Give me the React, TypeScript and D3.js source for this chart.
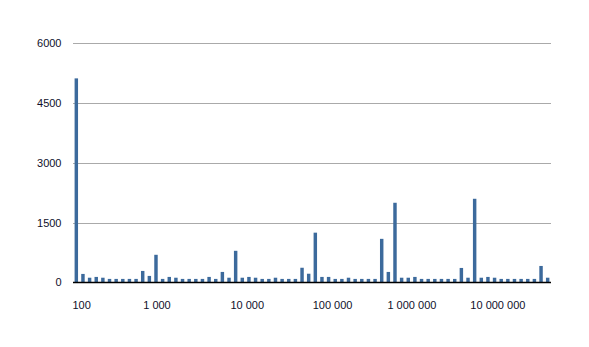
import React from "react";
import * as d3 from "d3";

const values: number[] = [
  5120, 215, 120, 140, 120, 90, 90, 90, 90, 90, 290, 165,
  695, 90, 140, 120, 90, 90, 90, 90, 140, 90, 265, 120,
  795, 120, 140, 120, 90, 90, 120, 90, 90, 90, 370, 220,
  1250, 140, 140, 90, 90, 120, 90, 90, 90, 90, 1095, 265,
  2000, 120, 120, 140, 90, 90, 90, 90, 90, 90, 365, 120,
  2100, 120, 140, 120, 90, 90, 90, 90, 90, 90, 415, 120,
];
const categories: number[] = values.map((_, i) => i);
const yTicks: number[] = [0, 1500, 3000, 4500, 6000];
const xTickLabels: string[] = ["100", "1 000", "10 000", "100 000", "1 000 000", "10 000 000"];
const xTickAt: number[] = [0.8, 12.15, 25.75, 38.6, 50.55, 63.5];

const W = 589;
const H = 347;
const left = 73;
const right = 551;
const top = 43.3;
const bottom = 282.5;

export default function App() {
  const x = d3.scaleBand<number>().domain(categories).range([left, right]).paddingInner(0.48).paddingOuter(0.24);
  const y = d3.scaleLinear().domain([0, 6000]).range([bottom, top]);
  const step = x.step();
  const x0 = x(0)! + x.bandwidth() / 2;
  const fx = (f: number) => x0 + f * step;
  const font = "'Liberation Sans', Arial, Helvetica, sans-serif";
  return (
    <svg width={W} height={H} style={{ position: "absolute", left: 0, top: 0, background: "#fff" }}>
      {yTicks.filter((t) => t > 0).map((t) => (
        <line key={t} x1={left} x2={right} y1={Math.round(y(t)) + 0.5} y2={Math.round(y(t)) + 0.5} stroke="#aaaaaa" strokeWidth={1} />
      ))}
      {values.map((v, i) => (
        <rect key={i} x={x(i)} y={y(v)} width={x.bandwidth()} height={bottom - y(v)} fill="#3c6a9c" />
      ))}
      <line x1={left} x2={right} y1={bottom} y2={bottom} stroke="#000" strokeWidth={1.3} />
      {yTicks.map((t) => (
        <text key={t} x={61.5} y={y(t)} dy="0.35em" textAnchor="end" fontFamily={font} fontSize={11} fill="#10102a">
          {t}
        </text>
      ))}
      {xTickLabels.map((l, i) => (
        <text key={l} x={fx(xTickAt[i])} y={309} textAnchor="middle" fontFamily={font} fontSize={11} fill="#10102a">
          {l}
        </text>
      ))}
    </svg>
  );
}
